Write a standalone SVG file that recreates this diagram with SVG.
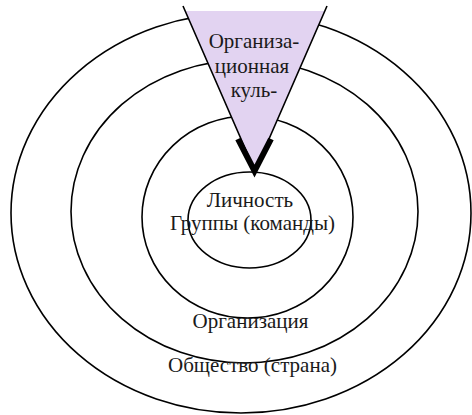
<svg xmlns="http://www.w3.org/2000/svg" width="472" height="415" viewBox="0 0 472 415">
<style>
.ring{fill:none;stroke:#000;stroke-width:1.6}
.t{font-family:"Liberation Serif","DejaVu Serif",serif;font-size:21px;fill:#1a1a1a;text-anchor:middle}
</style>
<rect width="472" height="415" fill="#fff"/>
<g id="society"><ellipse class="ring" cx="241" cy="213" rx="230" ry="200"/></g>
<g id="organization"><ellipse class="ring" cx="244.5" cy="211.5" rx="173.5" ry="151.5"/></g>
<g id="groups"><ellipse class="ring" cx="247.5" cy="217" rx="105.5" ry="101"/></g>
<g id="person"><ellipse class="ring" cx="249.5" cy="220" rx="61.5" ry="48"/></g>
<g id="culture">
<polygon points="185,11 325,11 255,171" fill="#E2D3F1"/>
<polyline points="183,6 255,171 327,6" fill="none" stroke="#000" stroke-width="1.6"/>
<text class="t" x="254" y="48">Организа-</text>
<text class="t" x="252" y="73">ционная</text>
<text class="t" x="254" y="97">куль-</text>
</g>
<g id="connectors">
<polyline points="238,139 254.5,171 271,139" fill="none" stroke="#000" stroke-width="6" stroke-linejoin="miter" stroke-miterlimit="10"/>
</g>
<g id="labels">
<text class="t" x="250" y="207">Личность</text>
<text class="t" x="252.5" y="230">Группы (команды)</text>
<text class="t" x="250.5" y="328">Организация</text>
<text class="t" x="252.5" y="372">Общество (страна)</text>
</g>
</svg>
